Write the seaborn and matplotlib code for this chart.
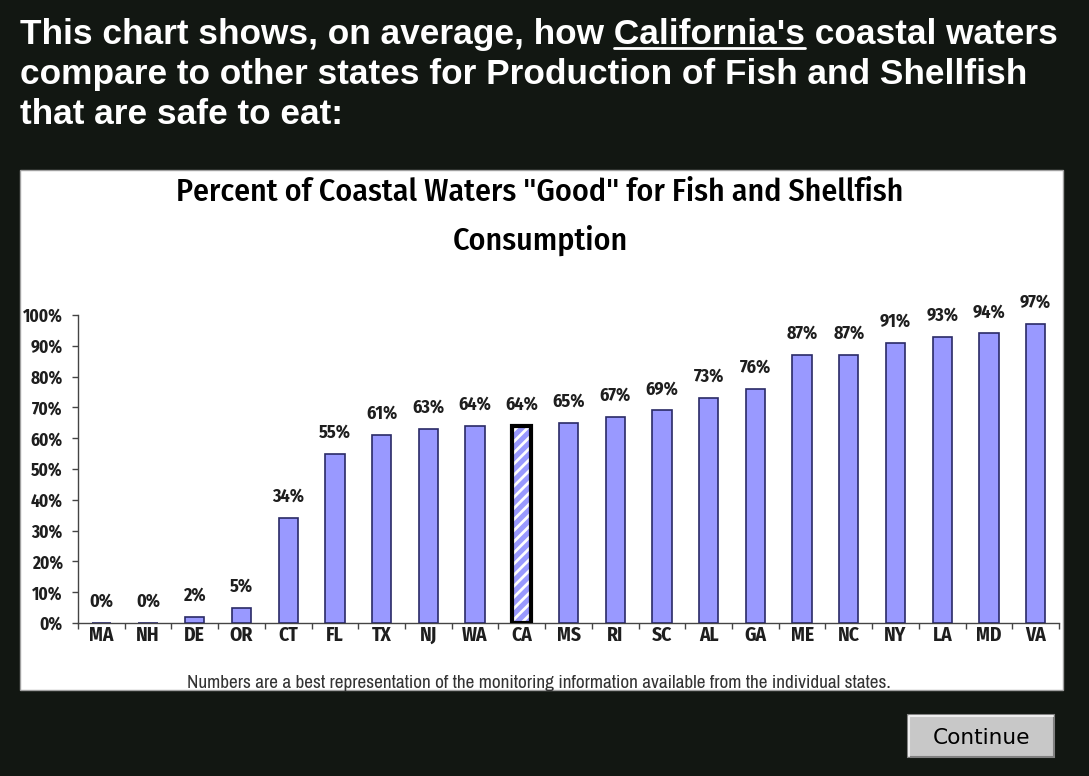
import numpy as np
import pandas as pd
import matplotlib
matplotlib.use("Agg")
import matplotlib.pyplot as plt
import seaborn as sns
from matplotlib.patches import Rectangle
from matplotlib.lines import Line2D

# ---------------- data ----------------
states = ["MA", "NH", "DE", "OR", "CT", "FL", "TX", "NJ", "WA", "CA", "MS",
          "RI", "SC", "AL", "GA", "ME", "NC", "NY", "LA", "MD", "VA"]
percent_good = [0, 0, 2, 5, 34, 55, 61, 63, 64, 64, 65,
                67, 69, 73, 76, 87, 87, 91, 93, 94, 97]
highlight_state = "CA"
y_ticks = [0, 10, 20, 30, 40, 50, 60, 70, 80, 90, 100]
y_tick_labels = [f"{t}%" for t in y_ticks]

header_lines = ["This chart shows, on average, how California's coastal waters",
                "compare to other states for Production of Fish and Shellfish",
                "that are safe to eat:"]
underlined_word = "California's"
chart_title_lines = ['Percent of Coastal Waters "Good" for Fish and Shellfish',
                     "Consumption"]
footnote = ("Numbers are a best representation of the monitoring information "
            "available from the individual states.")
button_label = "Continue"

# ---------------- style ----------------
W, H = 1089, 776
sns.set_theme(style="ticks")
COND = ["Fira Sans Condensed", "Archivo Narrow", "DejaVu Sans"]
NARROW = ["Archivo Narrow", "DejaVu Sans"]
plt.rcParams["font.family"] = COND
plt.rcParams["hatch.linewidth"] = 2.0

BG = "#121712"
BAR = "#9999ff"
BAR_EDGE = "#2a2a66"
TXT = "#1e1e1e"

fig = plt.figure(figsize=(W / 100, H / 100), dpi=100, facecolor=BG)


def fx(x):
    return x / W


def fy(y):
    return 1 - y / H


# white chart panel
fig.patches.append(Rectangle((fx(20), fy(690)), (1063 - 20) / W, (690 - 170) / H,
                             transform=fig.transFigure, facecolor="white",
                             edgecolor="#a0a0a0", lw=1, zorder=-5))

# ---------------- axes / bars ----------------
ax = fig.add_axes([fx(78), fy(623), (1059 - 78) / W, (623 - 315) / H])
ax.set_zorder(3)
ax.set_facecolor("none")
df = pd.DataFrame({"state": states, "pct": percent_good})
sns.barplot(data=df, x="state", y="pct", color=BAR, saturation=1,
            edgecolor=BAR_EDGE, linewidth=1.2, width=0.41, ax=ax, zorder=3)

bars = ax.patches[:len(states)]
hi = states.index(highlight_state)
hb = bars[hi]
hb.set_edgecolor("none")
ax.add_patch(Rectangle(hb.get_xy(), hb.get_width(), hb.get_height(), fill=False,
                       hatch="///", edgecolor="white", lw=0, zorder=4))
ax.add_patch(Rectangle(hb.get_xy(), hb.get_width(), hb.get_height(), fill=False,
                       edgecolor="black", lw=3, zorder=5))

for p, v in zip(bars, percent_good):
    ax.annotate(f"{v}%", (p.get_x() + p.get_width() / 2, p.get_height()),
                xytext=(0, 9), textcoords="offset points", ha="center",
                va="bottom", fontsize=13, fontweight="bold", color=TXT,
                annotation_clip=False)

ax.set_xlim(-0.5, len(states) - 0.5)
ax.set_ylim(0, 100)
ax.set_yticks(y_ticks)
ax.set_yticklabels(y_tick_labels, fontsize=12.5, fontweight="bold", color=TXT)
ax.set_xticks(range(len(states)))
ax.set_xticklabels(states, fontsize=14, fontweight="bold", color=TXT)
ax.set_xticks(np.arange(-0.5, len(states), 1), minor=True)
ax.tick_params(axis="x", which="major", length=0, pad=2)
ax.tick_params(axis="x", which="minor", length=4, width=1, color="#444444",
               direction="out")
ax.tick_params(axis="y", length=4, width=1, color="#444444", direction="out", pad=7)
ax.set_xlabel("")
ax.set_ylabel("")
sns.despine(ax=ax)
for s in ("left", "bottom"):
    ax.spines[s].set_color("#444444")
    ax.spines[s].set_linewidth(1)

# ---------------- texts ----------------
fig.canvas.draw()
renderer = fig.canvas.get_renderer()


def width_of(t):
    return t.get_window_extent(renderer).width


def fit(t, target_w):
    w = width_of(t)
    t.set_fontsize(t.get_fontsize() * target_w / w)


# header
hdr_kw = dict(color="white", fontweight="bold", family=["Liberation Sans", "DejaVu Sans"],
              ha="left", va="baseline", fontsize=22)
h1 = fig.text(fx(20), fy(44), header_lines[0], **hdr_kw)
fit(h1, 1035)
hsize = h1.get_fontsize()
fig.text(fx(20), fy(84), header_lines[1], **{**hdr_kw, "fontsize": hsize})
fig.text(fx(20), fy(124), header_lines[2], **{**hdr_kw, "fontsize": hsize})

# underline of "California's"
pre = header_lines[0].split(underlined_word)[0].rstrip()
tmp = fig.text(0, 0, pre + " " + underlined_word, **{**hdr_kw, "fontsize": hsize})
w_pre_word = width_of(tmp)
tmp.set_text(underlined_word)
w_word = width_of(tmp)
tmp.remove()
x_start = 20 + w_pre_word - w_word
x_end = 20 + w_pre_word
fig.add_artist(Line2D([fx(x_start), fx(x_end)], [fy(48), fy(48)],
                      transform=fig.transFigure, color="white", lw=2))

# chart title
t1 = fig.text(fx(540), fy(192), chart_title_lines[0], ha="center", va="center",
              fontsize=18, color="black", fontweight="medium")
fit(t1, 727)
fig.text(fx(540), fy(240), chart_title_lines[1], ha="center", va="center",
         fontsize=t1.get_fontsize(), color="black", fontweight="medium")

# footnote
fn = fig.text(fx(539), fy(683), footnote, ha="center", va="center",
              fontsize=9, color="#333333", family=NARROW)
fit(fn, 708)

# continue button
fig.patches.append(Rectangle((fx(908), fy(757)), 146 / W, 42 / H,
                             transform=fig.transFigure, facecolor="#c8c8c8",
                             edgecolor="#808080", lw=1.5, zorder=2))
fig.add_artist(Line2D([fx(909), fx(909), fx(1053)], [fy(756), fy(716), fy(716)],
                      transform=fig.transFigure, color="#eeeeee", lw=1.5, zorder=3))
bt = fig.text(fx(981), fy(738), button_label, ha="center", va="center",
              fontsize=13, color="black", family=["DejaVu Sans"], zorder=4)
fit(bt, 97)

fig.savefig("out.png", dpi=100, facecolor=BG)
